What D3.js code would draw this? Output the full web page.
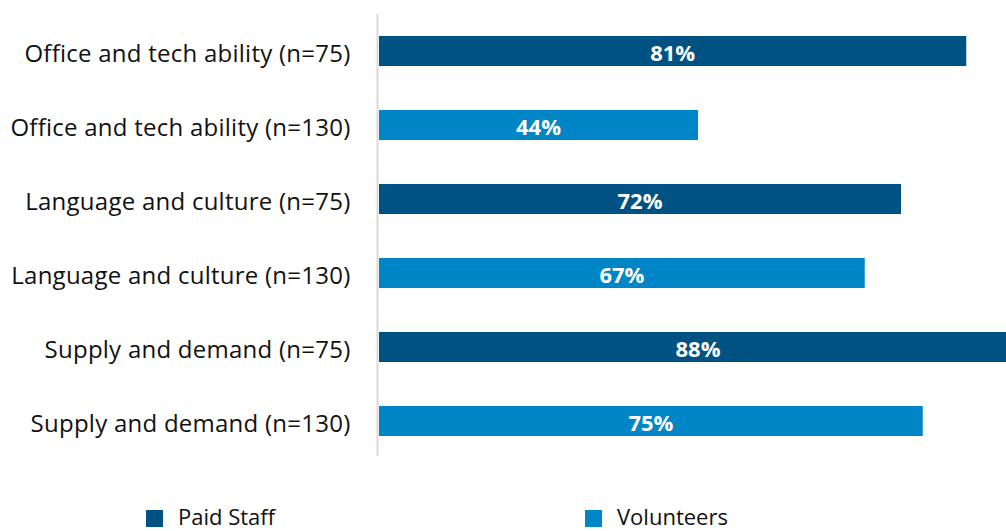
<!DOCTYPE html>
<html><head><meta charset="utf-8">
<script src="https://cdn.jsdelivr.net/npm/d3@7"></script>
<style>body{margin:0;background:#fff;} svg{display:block;}</style>
</head><body>
<svg id="chart" width="1006" height="531"></svg>
<script>
const categories = [
  "Office and tech ability (n=75)",
  "Office and tech ability (n=130)",
  "Language and culture (n=75)",
  "Language and culture (n=130)",
  "Supply and demand (n=75)",
  "Supply and demand (n=130)"
];
const values = [81, 44, 72, 67, 88, 75];
const groups = ["Paid Staff", "Volunteers", "Paid Staff", "Volunteers", "Paid Staff", "Volunteers"];
const seriesNames = ["Paid Staff", "Volunteers"];
const seriesColors = ["#005282", "#0086C6"];

const svg = d3.select("#chart");
const font = "'Open Sans', Lato, sans-serif";

const x = d3.scaleLinear().domain([0, 100]).range([379, 1104]);
const y = d3.scaleBand().domain(categories).range([14, 458]).paddingInner(44/74).paddingOuter(22/74);
const color = d3.scaleOrdinal().domain(seriesNames).range(seriesColors);

const rows = categories.map((c, i) => ({cat: c, v: values[i], g: groups[i]}));

svg.selectAll("rect.bar").data(rows).join("rect")
  .attr("class", "bar")
  .attr("x", x(0))
  .attr("y", d => y(d.cat))
  .attr("width", d => x(d.v) - x(0))
  .attr("height", y.bandwidth())
  .attr("fill", d => color(d.g));

svg.selectAll("text.val").data(rows).join("text")
  .attr("class", "val")
  .attr("x", d => (x(0) + x(d.v)) / 2)
  .attr("y", d => y(d.cat) + y.bandwidth() / 2)
  .attr("dy", "0.45em")
  .attr("text-anchor", "middle")
  .attr("fill", "#fff")
  .attr("font-family", font)
  .attr("font-weight", "bold")
  .attr("font-size", 22)
  .text(d => d.v + "%");

// axis
const yAxis = d3.axisLeft(y).tickSize(0).tickPadding(27);
const ax = svg.append("g").attr("transform", `translate(377.5,0)`).call(yAxis);
ax.select(".domain").attr("stroke", "#d9d9d9").attr("stroke-width", 2).attr("d", "M0,14V456");
ax.selectAll("text").attr("font-family", font).attr("font-size", 24)
  .attr("letter-spacing", "0.25px").attr("fill", "#111").attr("dy", "0.45em");

// legend
const legendX = [146, 585];
const lg = svg.selectAll("g.leg").data(seriesNames).join("g")
  .attr("class", "leg")
  .attr("transform", (d, i) => `translate(${legendX[i]},510)`);
lg.append("rect").attr("width", 17).attr("height", 17).attr("fill", d => color(d));
lg.append("text").attr("x", 32).attr("y", 15)
  .attr("font-family", font).attr("font-size", 22).attr("fill", "#111").text(d => d);
</script>
</body></html>
